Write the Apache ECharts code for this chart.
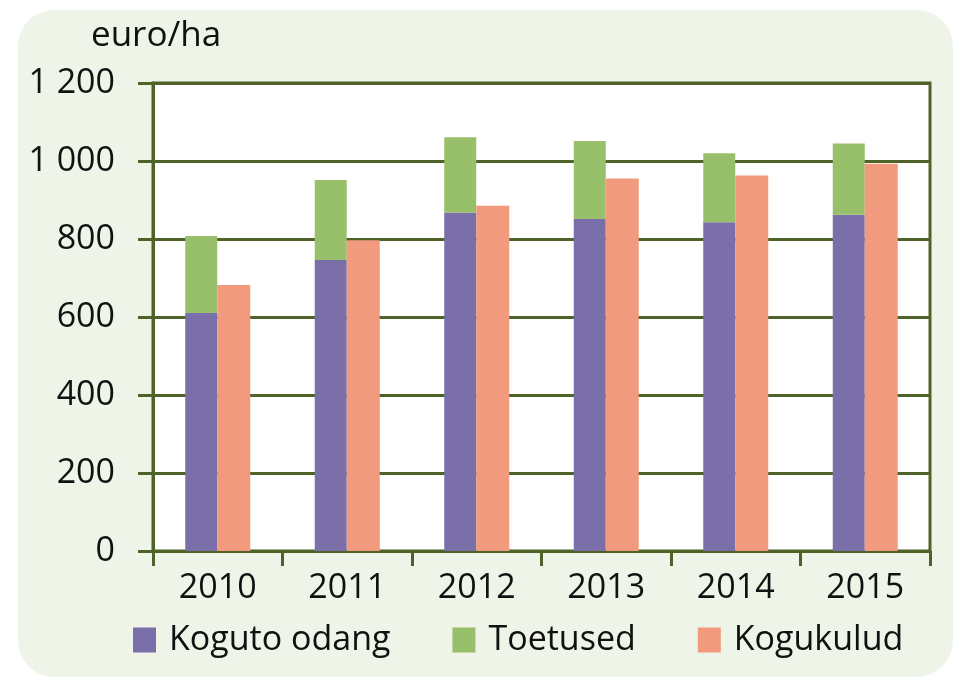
<!DOCTYPE html>
<html>
    <head>
        <meta charset="UTF-8">
        <title></title>
        <script src="https://cdn.jsdelivr.net/npm/echarts@6/dist/echarts.min.js"></script>
        <style>
            html, body { margin: 0; padding: 0; background: #fff; }
        </style>
    </head>
    <body>
        <div id="main" style="width: 960px; height: 679px;"></div>
        <script>
            // andmed
            var aastad = ['2010', '2011', '2012', '2013', '2014', '2015'];
            var kogutoodang = [610, 746, 868, 851, 843, 862];
            var toetused = [198, 205, 193, 200, 177, 183];
            var kogukulud = [682, 797, 885, 955, 963, 993];
            var yTicks = [0, 200, 400, 600, 800, 1000, 1200];

            var oliiv = '#4f6228';
            var font = 'Open Sans';

            var chart = echarts.init(document.getElementById('main'));
            chart.setOption({
                animation: false,
                color: ['#7a6fa8', '#98bf69', '#f19a7d'],
                graphic: [{
                    type: 'rect',
                    z: -10,
                    shape: { x: 18, y: 10, width: 935, height: 667, r: 36 },
                    style: { fill: '#eff4e9' }
                }],
                title: {
                    text: 'euro/ha',
                    left: 86,
                    top: 14,
                    textStyle: { fontFamily: font, fontSize: 35, fontWeight: 'normal', color: '#111' }
                },
                legend: {
                    left: 128,
                    top: 618,
                    itemWidth: 23,
                    itemHeight: 25,
                    itemGap: 62,
                    icon: 'rect',
                    textStyle: { fontFamily: font, fontSize: 34, color: '#111', padding: [0, 0, 0, 8] },
                    data: ['Koguto odang', 'Toetused', 'Kogukulud']
                },
                grid: {
                    left: 153,
                    top: 83,
                    right: 30,
                    bottom: 128,
                    show: true,
                    backgroundColor: '#fff',
                    borderColor: oliiv,
                    borderWidth: 3
                },
                xAxis: {
                    type: 'category',
                    data: aastad,
                    axisLine: { lineStyle: { color: oliiv, width: 3 } },
                    axisTick: { show: true, length: 15, lineStyle: { color: oliiv, width: 3 } },
                    axisLabel: { fontFamily: font, fontSize: 34, color: '#111', margin: 20 }
                },
                yAxis: {
                    type: 'value',
                    min: yTicks[0],
                    max: yTicks[yTicks.length - 1],
                    interval: 200,
                    axisLine: { show: true, lineStyle: { color: oliiv, width: 3 } },
                    axisTick: { show: true, length: 15, lineStyle: { color: oliiv, width: 3 } },
                    splitLine: { lineStyle: { color: oliiv, width: 3 } },
                    axisLabel: {
                        fontFamily: font, fontSize: 34, color: '#111', margin: 38,
                        formatter: function (v) {
                            return String(v).replace(/\B(?=(\d{3})+(?!\d))/g, ' ');
                        }
                    }
                },
                series: [{
                    name: 'Koguto odang',
                    type: 'bar',
                    stack: 'tulu',
                    barWidth: 32,
                    barGap: '0%',
                    data: kogutoodang
                }, {
                    name: 'Toetused',
                    type: 'bar',
                    stack: 'tulu',
                    barWidth: 32,
                    barGap: '0%',
                    data: toetused
                }, {
                    name: 'Kogukulud',
                    type: 'bar',
                    barWidth: 33,
                    barGap: '0%',
                    data: kogukulud
                }]
            });
        </script>
    </body>
</html>
